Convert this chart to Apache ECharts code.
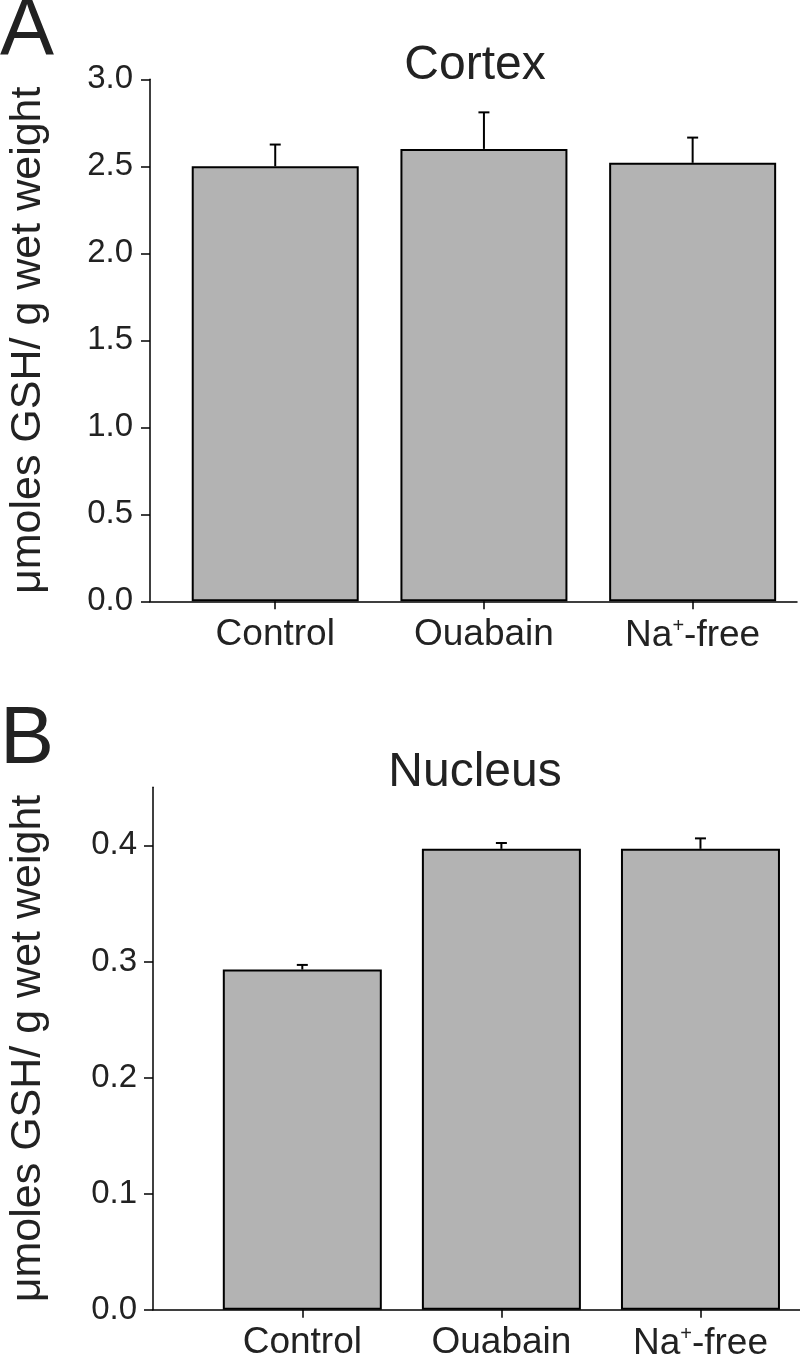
<!DOCTYPE html>
<html>
<head>
<meta charset="utf-8">
<script src="https://cdn.jsdelivr.net/npm/echarts@6/dist/echarts.min.js"></script>
<style>
html,body{margin:0;padding:0;background:#fff;}
#chart{width:800px;height:1362px;}
</style>
</head>
<body>
<div id="chart"></div>
<script>
// ---- data ----
const categories = ['Control', 'Ouabain', 'Na+-free'];
const categoryLabels = ['Control', 'Ouabain', 'Na{sup|+}-free'];
const cortexMeans = [2.50, 2.60, 2.52];
const cortexErr = [0.125, 0.21, 0.145];
const nucleusMeans = [0.293, 0.397, 0.397];
const nucleusErr = [0.004, 0.005, 0.009];
const cortexTicks = [0, 0.5, 1.0, 1.5, 2.0, 2.5, 3.0];
const nucleusTicks = [0, 0.1, 0.2, 0.3, 0.4];
const yTitle = 'μmoles GSH/ g wet weight';

const FONT = '"Liberation Sans", Arial, sans-serif';
const TXT = '#222';
const catIdx = categories.map((c, i) => i);

function xAxisDef(gridIndex, min) {
  return {
    gridIndex, type: 'value', min, max: 2.5,
    splitLine: {show: false},
    axisLine: {show: true, onZero: false, lineStyle: {color: '#000', width: 1.5}},
    axisTick: {show: true, customValues: catIdx, length: 8, lineStyle: {color: '#000', width: 1.5}},
    axisLabel: {
      show: true, customValues: catIdx, margin: 15,
      formatter: v => categoryLabels[Math.round(v)],
      fontFamily: FONT, fontSize: 37, color: TXT,
      rich: {sup: {fontFamily: FONT, fontSize: 20, color: TXT, padding: [0, 0, 18, 0]}}
    }
  };
}
function yAxisDef(gridIndex, max, ticks, gap, margin) {
  return {
    gridIndex, type: 'value', min: 0, max,
    splitLine: {show: false},
    axisLine: {show: true, onZero: false, lineStyle: {color: '#000', width: 1.5}},
    axisTick: {show: true, customValues: ticks, length: 9, lineStyle: {color: '#000', width: 1.5}},
    axisLabel: {show: true, customValues: ticks, formatter: v => v.toFixed(1), margin,
      fontFamily: FONT, fontSize: 33, color: TXT},
    name: yTitle, nameLocation: 'middle', nameGap: gap, nameRotate: 90,
    nameTextStyle: {fontFamily: FONT, fontSize: 43, color: TXT}
  };
}
function errRender(params, api) {
  const x = api.value(0), m = api.value(1), e = api.value(2);
  const p0 = api.coord([x, m]);
  const p1 = api.coord([x, m + e]);
  const st = {stroke: '#000', lineWidth: 2};
  return {type: 'group', children: [
    {type: 'line', shape: {x1: p0[0], y1: p0[1], x2: p1[0], y2: p1[1]}, style: st},
    {type: 'line', shape: {x1: p1[0] - 5.5, y1: p1[1], x2: p1[0] + 5.5, y2: p1[1]}, style: st}
  ]};
}
const barStyle = {color: '#b3b3b3', borderColor: '#000', borderWidth: 2};

const chart = echarts.init(document.getElementById('chart'), null, {renderer: 'canvas'});
chart.setOption({
  animation: false,
  backgroundColor: '#fff',
  title: [
    {text: 'Cortex', left: 470, top: 37, textAlign: 'center',
      textStyle: {fontFamily: FONT, fontSize: 48, fontWeight: 'normal', color: TXT}},
    {text: 'Nucleus', left: 470, top: 744, textAlign: 'center',
      textStyle: {fontFamily: FONT, fontSize: 48, fontWeight: 'normal', color: TXT}}
  ],
  graphic: [
    {type: 'text', left: 0, top: -9, style: {text: 'A', fontFamily: FONT, fontSize: 81, fill: TXT}},
    {type: 'text', left: 0, top: 700, style: {text: 'B', fontFamily: FONT, fontSize: 81, fill: TXT}}
  ],
  grid: [
    {left: 150, right: 3, top: 79.3, height: 522, containLabel: false, outerBoundsMode: 'none'},
    {left: 153, right: 0, top: 787.3, height: 522.4, containLabel: false, outerBoundsMode: 'none'}
  ],
  xAxis: [xAxisDef(0, -0.6), xAxisDef(1, -0.75)],
  yAxis: [yAxisDef(0, 3, cortexTicks, 100, 17), yAxisDef(1, 0.45, nucleusTicks, 103, 16)],
  series: [
    {type: 'bar', xAxisIndex: 0, yAxisIndex: 0, barWidth: 167, itemStyle: barStyle,
      data: cortexMeans.map((v, i) => [i, v])},
    {type: 'custom', xAxisIndex: 0, yAxisIndex: 0, renderItem: errRender, z: 5,
      data: cortexMeans.map((v, i) => [i, v, cortexErr[i]])},
    {type: 'bar', xAxisIndex: 1, yAxisIndex: 1, barWidth: 159, itemStyle: barStyle,
      data: nucleusMeans.map((v, i) => [i, v])},
    {type: 'custom', xAxisIndex: 1, yAxisIndex: 1, renderItem: errRender, z: 5,
      data: nucleusMeans.map((v, i) => [i, v, nucleusErr[i]])}
  ]
});
</script>
</body>
</html>
